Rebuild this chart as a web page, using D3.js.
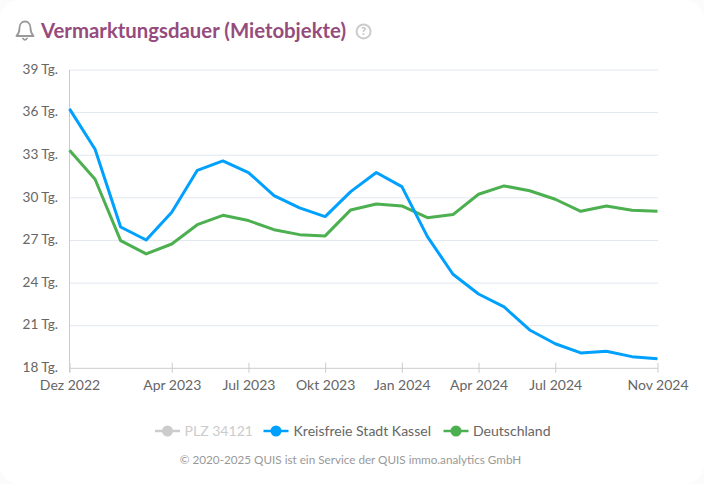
<!DOCTYPE html>
<html><head><meta charset="utf-8">
<script src="https://cdn.jsdelivr.net/npm/d3@7/dist/d3.min.js"></script>
<style>
html,body{margin:0;padding:0;background:#fff}
svg{display:block}
text{font-family:Lato,sans-serif}
</style></head><body>
<svg id="c" width="704" height="484"></svg>
<script>
const months = ["Dez 2022","Jan 2023","Feb 2023","Mär 2023","Apr 2023","Mai 2023","Jun 2023","Jul 2023","Aug 2023","Sep 2023","Okt 2023","Nov 2023","Dez 2023","Jan 2024","Feb 2024","Mär 2024","Apr 2024","Mai 2024","Jun 2024","Jul 2024","Aug 2024","Sep 2024","Okt 2024","Nov 2024"];
const kassel = [36.26,33.42,27.95,27.03,28.98,31.94,32.6,31.78,30.16,29.29,28.68,30.44,31.78,30.79,27.27,24.62,23.23,22.32,20.7,19.73,19.08,19.2,18.82,18.68];
const deutschland = [33.35,31.31,26.99,26.05,26.75,28.11,28.77,28.4,27.76,27.41,27.32,29.15,29.57,29.43,28.6,28.82,30.25,30.84,30.5,29.9,29.05,29.43,29.13,29.05];
const xTickLabels = ["Dez 2022","Apr 2023","Jul 2023","Okt 2023","Jan 2024","Apr 2024","Jul 2024","Nov 2024"];
const yTicks = [18,21,24,27,30,33,36,39];
const legendNames = ["PLZ 34121","Kreisfreie Stadt Kassel","Deutschland"];
const legendColors = ["#cccccc","#00a0ff","#4caf50"];
const legendText = ["#cccccc","#666666","#666666"];
const title = "Vermarktungsdauer (Mietobjekte)";
const footer = "© 2020-2025 QUIS ist ein Service der QUIS immo.analytics GmbH";

const svg = d3.select("#c");
svg.append("rect").attr("width",704).attr("height",484).attr("fill","#fbfbfb");
svg.append("rect").attr("x",-0.5).attr("y",0).attr("width",704.5).attr("height",484).attr("rx",20).attr("fill","#fff");

const x = d3.scalePoint().domain(months).range([69.5,657.5]);
const y = d3.scaleLinear().domain([18,39]).range([368.3,70]);

svg.append("g").selectAll("line").data(yTicks.slice(1)).join("line")
  .attr("x1",69.5).attr("x2",658).attr("y1",d=>y(d)).attr("y2",d=>y(d))
  .attr("stroke","#e1e6f0").attr("stroke-width",1);

const yAxis = svg.append("g").attr("transform","translate(69.5,0)")
  .call(d3.axisLeft(y).tickValues(yTicks).tickSize(0).tickPadding(11.5).tickFormat(d=>d+" Tg."));
yAxis.select(".domain").attr("stroke","#cccccc").attr("d","M0,70V372.5");
yAxis.selectAll("text").attr("font-size",13.6).attr("fill","#666").attr("dy","0.24em");

const xAxis = svg.append("g").attr("transform","translate(0,368.3)")
  .call(d3.axisBottom(x).tickValues(xTickLabels).tickSize(4.5).tickPadding(8));
xAxis.select(".domain").attr("stroke","#cccccc").attr("d","M69.5,0H658");
xAxis.selectAll("line").attr("y1",-5.5).attr("stroke","#cccccc");
xAxis.selectAll("text").attr("font-size",14).attr("fill","#666").attr("y",12).attr("dy","0.71em");

const line = d3.line().x((d,i)=>x(months[i])).y(d=>y(d));
[[deutschland,legendColors[2]],[kassel,legendColors[1]]].forEach(([s,c])=>{
  svg.append("path").attr("d",line(s)).attr("fill","none").attr("stroke",c)
    .attr("stroke-width",3).attr("stroke-linejoin","round");
});

svg.append("text").attr("x",41).attr("y",37.5).attr("font-size",20.35).attr("font-weight",700)
  .attr("fill","#964b7d").text(title);

// bell icon
const bell = svg.append("g").attr("fill","none").attr("stroke","#999999").attr("stroke-width",1.8);
bell.append("path").attr("d","M16.5,36 C19,33.5 19.5,31 19.5,28 C19.5,24.5 21.5,21.5 25,21.5 C28.5,21.5 30.5,24.5 30.5,28 C30.5,31 31,33.5 33.5,36 Z").attr("stroke-linejoin","round");
bell.append("path").attr("d","M23,38.5 Q25,41 27,38.5").attr("stroke-linecap","round");

// help icon
svg.append("circle").attr("cx",363.6).attr("cy",31.4).attr("r",7).attr("fill","none").attr("stroke","#cccccc").attr("stroke-width",2);
svg.append("text").attr("x",363.6).attr("y",35.4).attr("text-anchor","middle").attr("font-size",11).attr("font-weight",900).attr("fill","#c4c4c4").text("?");

// legend
const legendX = [155,263.5,443.5];
const textX = [29.5,30,29.5];
const lg = svg.append("g").selectAll("g").data(legendNames).join("g")
  .attr("transform",(d,i)=>`translate(${legendX[i]},431)`);
lg.append("line").attr("x1",0).attr("x2",25).attr("stroke",(d,i)=>legendColors[i]).attr("stroke-width",2.5);
lg.append("circle").attr("cx",12.5).attr("r",5.5).attr("fill",(d,i)=>legendColors[i]);
lg.append("text").attr("x",(d,i)=>textX[i]).attr("y",4.5).attr("font-size",14.05).attr("fill",(d,i)=>legendText[i]).text(d=>d);

svg.append("text").attr("x",350.5).attr("y",464).attr("text-anchor","middle").attr("font-size",11.7).attr("fill","#999").text(footer);
</script>
</body></html>
